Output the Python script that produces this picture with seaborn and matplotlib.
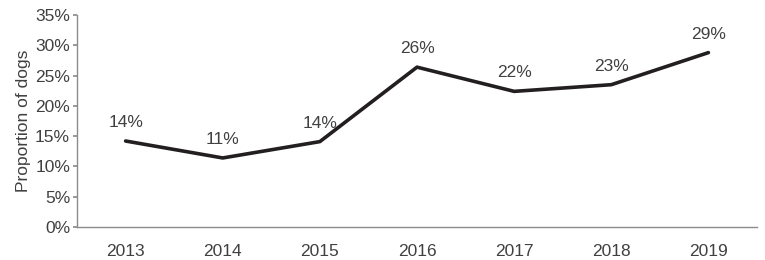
import matplotlib
matplotlib.use("Agg")
import matplotlib.pyplot as plt
import matplotlib.ticker as ticker
import seaborn as sns
import pandas as pd

# ── data ─────────────────────────────────────────────────────────────────────
years  = ["2013", "2014", "2015", "2016", "2017", "2018", "2019"]
shares = [14.2, 11.4, 14.1, 26.4, 22.4, 23.5, 28.8]
labels = ["14%", "11%", "14%", "26%", "22%", "23%", "29%"]

LINE_CLR = "#231F20"
TEXT_CLR = "#404040"
AXIS_CLR = "#8C8C8C"
FS = 12.5

sns.set_theme(style="white")
plt.rcParams["font.family"] = ["Liberation Sans", "DejaVu Sans"]

df = pd.DataFrame({"year": years, "share": shares})

fig = plt.figure(figsize=(7.65, 2.6), dpi=100)
ax = fig.add_axes([0.1007, 0.127, 0.8888, 0.815])

sns.lineplot(data=df, x="year", y="share", color=LINE_CLR, lw=2.6,
             sort=False, ax=ax)

for i, (v, lab) in enumerate(zip(shares, labels)):
    ax.annotate(lab, (i, v), xytext=(0, 8), textcoords="offset points",
                ha="center", va="bottom", fontsize=FS, color=TEXT_CLR)

ax.set_xlim(-0.5, len(years) - 0.5)
ax.set_ylim(0, 35)
ax.yaxis.set_major_locator(ticker.MultipleLocator(5))
ax.yaxis.set_major_formatter(ticker.FuncFormatter(lambda v, _: f"{v:.0f}%"))
ax.set_xlabel("")
ax.set_ylabel("Proportion of dogs", fontsize=FS, color=TEXT_CLR, labelpad=3)

ax.tick_params(axis="y", labelsize=FS, labelcolor=TEXT_CLR, left=True,
               length=3, color=AXIS_CLR, pad=2)
ax.tick_params(axis="x", labelsize=FS, labelcolor=TEXT_CLR, bottom=False, pad=6)

sns.despine(ax=ax)
for side in ("left", "bottom"):
    ax.spines[side].set_color(AXIS_CLR)
    ax.spines[side].set_linewidth(1.0)

fig.savefig("out.png", dpi=100)
